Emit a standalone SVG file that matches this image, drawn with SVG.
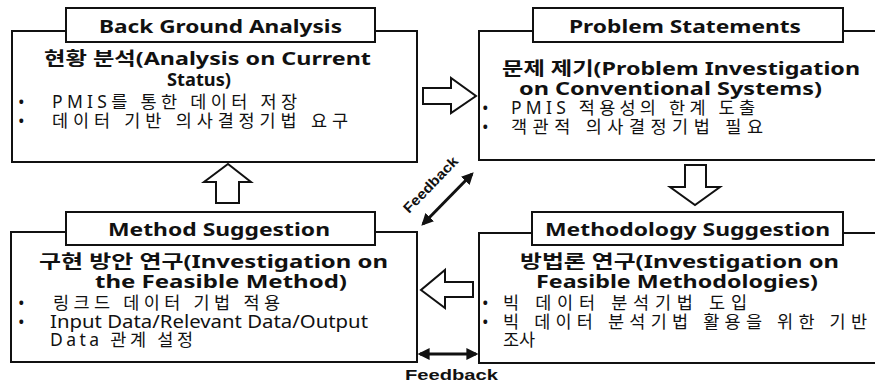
<svg xmlns="http://www.w3.org/2000/svg" width="875" height="382" viewBox="0 0 875 382">
<defs>
<style>
.box{fill:#fff;stroke:#111;stroke-width:2}
.ttl{fill:#fff;stroke:#111;stroke-width:2}
.blk{fill:#fff;stroke:#111;stroke-width:2;stroke-linejoin:miter}
.t{font-family:"Noto Sans","Noto Sans CJK KR",sans-serif;font-size:18px;font-weight:bold;fill:#111}
.h{font-family:"Noto Sans","Noto Sans CJK KR",sans-serif;font-size:18px;font-weight:bold;fill:#111}
.b{font-family:"Noto Sans","Noto Sans CJK KR",sans-serif;font-size:17.5px;fill:#111}
.fb{font-family:"Liberation Sans",Arial,sans-serif;font-size:14px;font-weight:bold;fill:#111}
.fl{stroke:#111;stroke-width:3;fill:none}
</style>
<marker id="ah" viewBox="0 0 10 10" refX="8" refY="5" markerWidth="4" markerHeight="4" orient="auto-start-reverse" markerUnits="strokeWidth">
<path d="M0,0 L10,5 L0,10 Z" fill="#111"/>
</marker>
</defs>
<rect width="875" height="382" fill="#fff"/>

<g id="node-background">
<rect class="box" x="12" y="31" width="405" height="131"/>
<rect class="ttl" x="66" y="8" width="309" height="34"/>
<text class="t" x="99" y="33" textLength="243" lengthAdjust="spacingAndGlyphs">Back Ground Analysis</text>
<text class="h" x="44" y="65" textLength="327" lengthAdjust="spacingAndGlyphs">현황 분석(Analysis on Current</text>
<text class="h" x="167" y="86" textLength="64" lengthAdjust="spacingAndGlyphs">Status)</text>
<text class="b" x="18" y="108">•</text>
<text class="b" x="52" y="108" textLength="245" lengthAdjust="spacing">PMIS를 통한 데이터 저장</text>
<text class="b" x="18" y="127">•</text>
<text class="b" x="52" y="127" textLength="296" lengthAdjust="spacing">데이터 기반 의사결정기법 요구</text>
</g>

<g id="node-problem">
<rect class="box" x="479" y="31" width="400" height="129"/>
<rect class="ttl" x="533" y="8" width="310" height="34"/>
<text class="t" x="569" y="33" textLength="232" lengthAdjust="spacingAndGlyphs">Problem Statements</text>
<text class="h" x="502" y="75" textLength="358" lengthAdjust="spacingAndGlyphs">문제 제기(Problem Investigation</text>
<text class="h" x="519" y="95" textLength="303" lengthAdjust="spacingAndGlyphs">on Conventional Systems)</text>
<text class="b" x="482" y="114">•</text>
<text class="b" x="511" y="114" textLength="244" lengthAdjust="spacing">PMIS 적용성의 한계 도출</text>
<text class="b" x="482" y="133">•</text>
<text class="b" x="511" y="133" textLength="252" lengthAdjust="spacing">객관적 의사결정기법 필요</text>
</g>

<g id="node-method">
<rect class="box" x="11" y="232" width="406" height="130"/>
<rect class="ttl" x="66" y="212" width="309" height="33"/>
<text class="t" x="108" y="236" textLength="222" lengthAdjust="spacingAndGlyphs">Method Suggestion</text>
<text class="h" x="39" y="268" textLength="349" lengthAdjust="spacingAndGlyphs">구현 방안 연구(Investigation on</text>
<text class="h" x="95" y="288" textLength="252" lengthAdjust="spacingAndGlyphs">the Feasible Method)</text>
<text class="b" x="18" y="309">•</text>
<text class="b" x="53" y="309" textLength="227" lengthAdjust="spacing">링크드 데이터 기법 적용</text>
<text class="b" x="18" y="328">•</text>
<text class="b" x="50" y="328" textLength="318" lengthAdjust="spacingAndGlyphs">Input Data/Relevant Data/Output</text>
<text class="b" x="50" y="346" textLength="143" lengthAdjust="spacing">Data 관계 설정</text>
</g>

<g id="node-methodology">
<rect class="box" x="479" y="233" width="400" height="130"/>
<rect class="ttl" x="532" y="212" width="311" height="33"/>
<text class="t" x="545" y="236" textLength="285" lengthAdjust="spacingAndGlyphs">Methodology Suggestion</text>
<text class="h" x="520" y="268" textLength="319" lengthAdjust="spacingAndGlyphs">방법론 연구(Investigation on</text>
<text class="h" x="536" y="288" textLength="282" lengthAdjust="spacingAndGlyphs">Feasible Methodologies)</text>
<text class="b" x="482" y="309">•</text>
<text class="b" x="503" y="309" textLength="244" lengthAdjust="spacing">빅 데이터 분석기법 도입</text>
<text class="b" x="482" y="328">•</text>
<text class="b" x="503" y="328" textLength="364" lengthAdjust="spacing">빅 데이터 분석기법 활용을 위한 기반</text>
<text class="b" x="503" y="346">조사</text>
</g>

<g id="connectors">
<polygon class="blk" points="423,88 451,88 451,78 476,96 451,113 451,104 423,104"/>
<polygon class="blk" points="685,165 706,165 706,187 720,187 695,205 670,187 685,187"/>
<polygon class="blk" points="473,282 445,282 445,270 421,290 445,308 445,297 473,297"/>
<polygon class="blk" points="216,203 216,182 204,182 228,164 251,182 239,182 239,203"/>
<line class="fl" x1="423" y1="224" x2="472" y2="174" marker-start="url(#ah)" marker-end="url(#ah)"/>
<text class="fb" x="0" y="0" text-anchor="middle" textLength="72" lengthAdjust="spacingAndGlyphs" transform="translate(434,188) rotate(-46)">Feedback</text>
<line class="fl" x1="420" y1="354" x2="476" y2="354" marker-start="url(#ah)" marker-end="url(#ah)"/>
<text class="fb" x="405" y="380" textLength="93" lengthAdjust="spacingAndGlyphs">Feedback</text>
</g>
</svg>
